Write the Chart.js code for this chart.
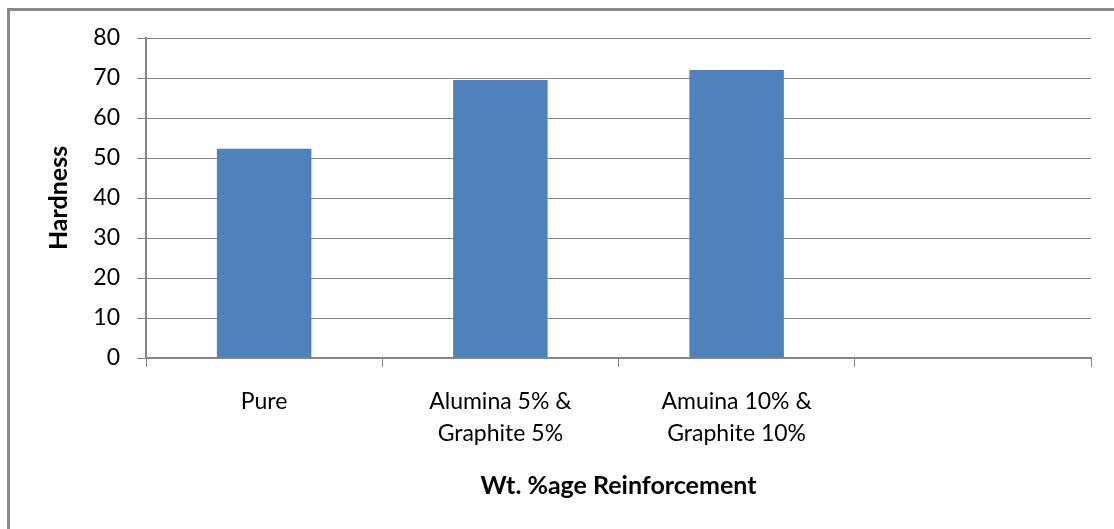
<!DOCTYPE html>
<html>
<head>
<meta charset="utf-8">
<script src="https://cdn.jsdelivr.net/npm/chart.js@4"></script>
<style>
  html, body { margin: 0; padding: 0; background: #fff; overflow: hidden; }
  #wrap { position: relative; width: 1114px; height: 529px; }
  #frame { position: absolute; left: 7px; top: 8px; width: 1200px; height: 700px;
           border-left: 3px solid #898989; border-top: 3px solid #898989; pointer-events: none; }
  canvas { position: absolute; left: 0; top: 0; }
</style>
</head>
<body>
<div id="wrap">
  <canvas id="c" width="1114" height="529"></canvas>
  <div id="frame"></div>
</div>
<script>
const categories = ['Pure', ['Alumina 5% &', 'Graphite 5%'], ['Amuina 10% &', 'Graphite 10%'], ''];
const hardness = [52.3, 69.5, 72, null];
const yTicks = [0, 10, 20, 30, 40, 50, 60, 70, 80];
const xTitle = 'Wt. %age Reinforcement';
const yTitle = 'Hardness';

const FONT = 'Lato, "Open Sans", sans-serif';
const GRID = '#868686';

new Chart(document.getElementById('c'), {
  type: 'bar',
  data: {
    labels: categories,
    datasets: [{
      label: yTitle,
      data: hardness,
      backgroundColor: '#4F81BD',
      borderWidth: 0,
      categoryPercentage: 1,
      barPercentage: 0.4
    }]
  },
  options: {
    responsive: false,
    devicePixelRatio: 1,
    animation: false,
    layout: { padding: { top: 38, right: 23, left: 0, bottom: 0 } },
    plugins: { legend: { display: false }, tooltip: { enabled: false } },
    scales: {
      x: {
        grid: { display: true, drawOnChartArea: false, drawTicks: true, tickLength: 9, color: GRID, lineWidth: 1, offset: true },
        border: { display: true, color: GRID, width: 2 },
        ticks: { color: '#000', font: { family: FONT, size: 23, lineHeight: 1.39 }, padding: 19, maxRotation: 0, autoSkip: false },
        title: { display: true, text: xTitle, color: '#000', font: { family: FONT, size: 25, weight: 'bold' }, padding: { top: 0, bottom: 28 } },
        afterFit: (s) => { s.height = 171; }
      },
      y: {
        min: 0, max: 80,
        afterBuildTicks: (s) => { s.ticks = yTicks.map(v => ({ value: v })); },
        grid: { display: true, drawTicks: true, tickLength: 9, color: GRID, lineWidth: 1 },
        border: { display: true, color: GRID, width: 2 },
        ticks: { color: '#000', font: { family: FONT, size: 23 }, padding: 17 },
        title: { display: true, text: yTitle, color: '#000', font: { family: FONT, size: 25, weight: 'bold' }, padding: { top: 44, bottom: 0 } },
        afterFit: (s) => { s.width = 146; }
      }
    }
  }
});
</script>
</body>
</html>
